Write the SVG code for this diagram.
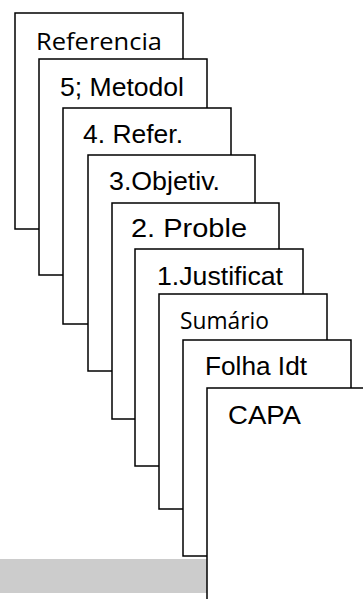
<svg xmlns="http://www.w3.org/2000/svg" width="363" height="599" viewBox="0 0 363 599">
<style>
.pg{fill:#fff;stroke:#000;stroke-width:1.5}
.a{font-family:"Liberation Sans",Arial,sans-serif;font-size:25px;fill:#000}
.c{font-family:"Open Sans",Lato,sans-serif;font-size:24.5px;fill:#000}
</style>
<rect width="363" height="599" fill="#fff"/>
<g id="referencia"><rect class="pg" x="15" y="13" width="168" height="216"/><text class="c" x="36" y="50" textLength="126" lengthAdjust="spacingAndGlyphs">Referencia</text></g>
<g id="metodol"><rect class="pg" x="39" y="59" width="168" height="216"/><text class="a" x="60" y="96" textLength="124" lengthAdjust="spacingAndGlyphs">5; Metodol</text></g>
<g id="refer"><rect class="pg" x="63" y="108" width="168" height="216"/><text class="a" x="83" y="143" textLength="100" lengthAdjust="spacingAndGlyphs">4. Refer.</text></g>
<g id="objetiv"><rect class="pg" x="88" y="155" width="167" height="216"/><text class="a" x="109" y="190" textLength="111" lengthAdjust="spacingAndGlyphs">3.Objetiv.</text></g>
<g id="proble"><rect class="pg" x="112" y="203" width="167" height="216"/><text class="a" x="131" y="237" textLength="116" lengthAdjust="spacingAndGlyphs">2. Proble</text></g>
<g id="justificat"><rect class="pg" x="135" y="249" width="168" height="217"/><text class="a" x="157" y="285" textLength="126" lengthAdjust="spacingAndGlyphs">1.Justificat</text></g>
<g id="sumario"><rect class="pg" x="159" y="294" width="168" height="215"/><text class="c" x="180" y="329" font-size="23.5" textLength="89" lengthAdjust="spacingAndGlyphs">Sumário</text></g>
<g id="folha"><rect class="pg" x="183" y="340" width="168" height="216"/><text class="a" x="205" y="375" textLength="102" lengthAdjust="spacingAndGlyphs">Folha Idt</text></g>
<rect id="bar" x="0" y="559" width="207" height="34" fill="#cccccc"/>
<g id="capa"><rect class="pg" x="207" y="388" width="170" height="230"/><text class="a" x="228" y="424" textLength="73" lengthAdjust="spacingAndGlyphs">CAPA</text></g>
<g id="connectors"></g>
</svg>
